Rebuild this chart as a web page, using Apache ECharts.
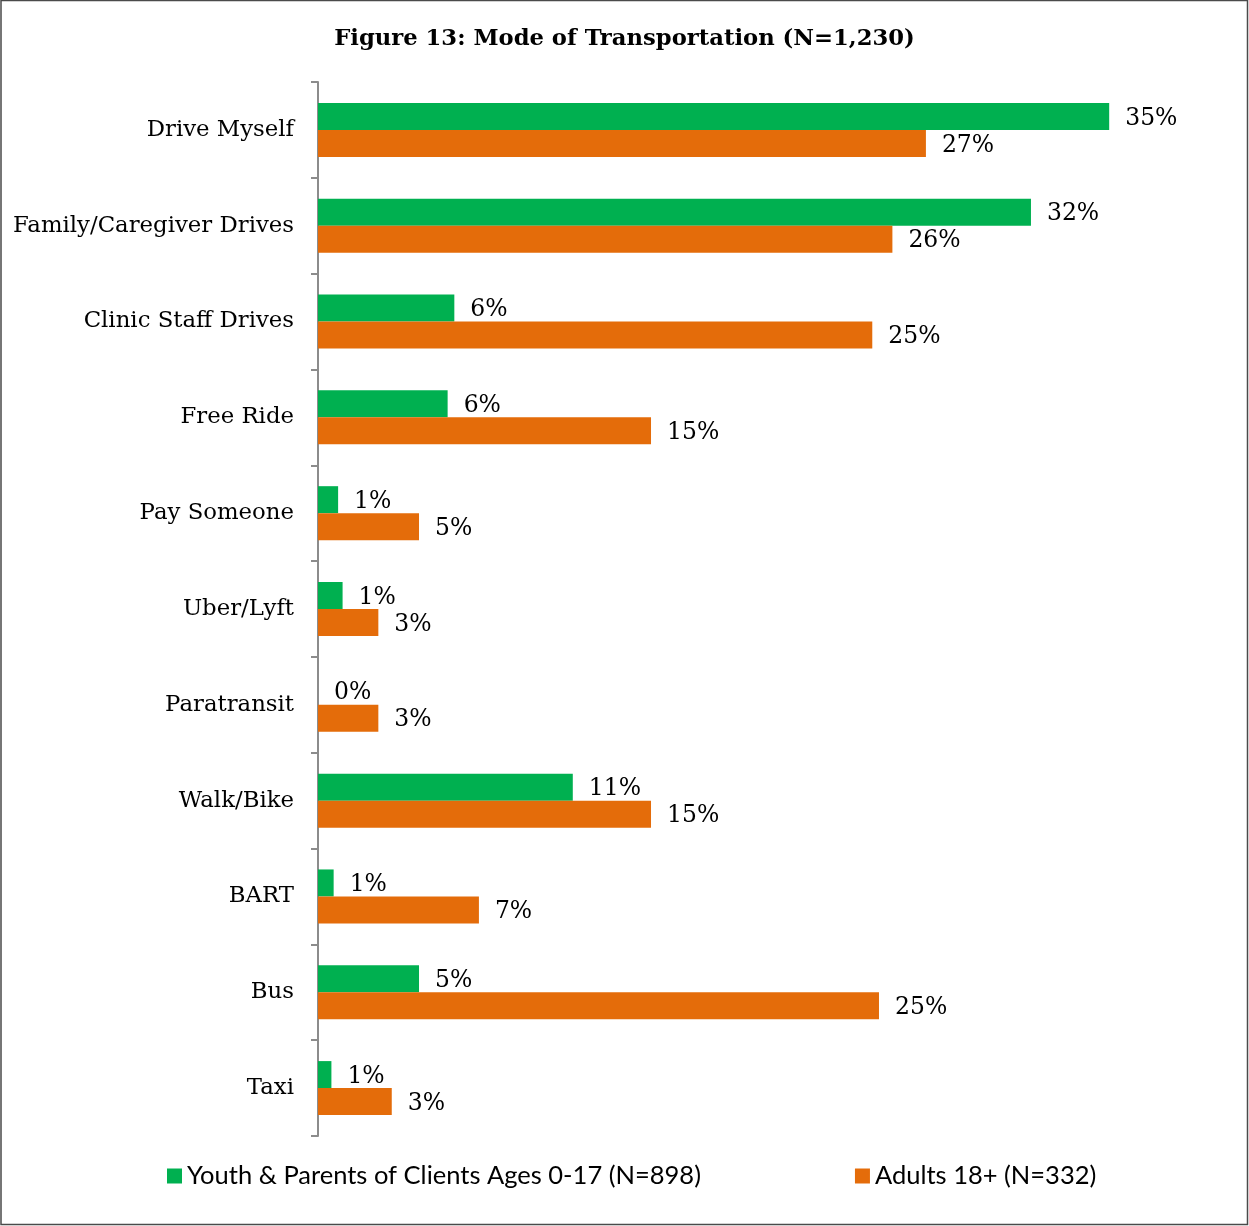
<!DOCTYPE html>
<html>
<head>
<meta charset="utf-8">
<script src="https://cdn.jsdelivr.net/npm/echarts@6/dist/echarts.min.js"></script>
<style>
  html, body { margin: 0; padding: 0; background: #fff; }
  #chart { width: 1249px; height: 1226px; }
</style>
</head>
<body>
<div id="chart"></div>
<script>
const categories = ['Drive Myself', 'Family/Caregiver Drives', 'Clinic Staff Drives', 'Free Ride', 'Pay Someone',
  'Uber/Lyft', 'Paratransit', 'Walk/Bike', 'BART', 'Bus', 'Taxi']
const youthValues = [35.4, 31.9, 6.1, 5.8, 0.9, 1.1, 0, 11.4, 0.7, 4.52, 0.6]
const adultValues = [27.2, 25.7, 24.8, 14.9, 4.52, 2.7, 2.7, 14.9, 7.2, 25.1, 3.3]
const seriesNames = ['Youth & Parents of Clients Ages 0-17 (N=898)', 'Adults 18+ (N=332)']

const chart = echarts.init(document.getElementById('chart'))

const serifFont = '"DejaVu Serif", serif'
const barLabel = {
  show: true,
  position: 'right',
  distance: 16,
  offset: [0, 2],
  fontFamily: serifFont,
  fontSize: 23.5,
  color: '#000',
  formatter: p => Math.round(p.value) + '%'
}

const option = {
  animation: false,
  title: {
    text: 'Figure 13: Mode of Transportation (N=1,230)',
    left: 'center',
    top: 23,
    textStyle: { fontFamily: serifFont, fontWeight: 'bold', fontSize: 22.7, color: '#000' }
  },
  legend: {
    bottom: 32,
    left: 162,
    itemWidth: 15,
    itemHeight: 15,
    itemGap: 154,
    icon: 'rect',
    textStyle: { fontFamily: 'Lato, sans-serif', fontSize: 25.5, color: '#000' },
    data: seriesNames
  },
  grid: {
    left: 318,
    top: 82,
    height: 1054,
    width: 894
  },
  xAxis: {
    type: 'value',
    min: 0,
    max: 40,
    show: false
  },
  yAxis: {
    type: 'category',
    inverse: true,
    data: categories,
    axisLine: { show: true, lineStyle: { color: '#8c8c8c', width: 2 } },
    axisTick: { show: true, length: 7, lineStyle: { color: '#8c8c8c', width: 2 } },
    axisLabel: { margin: 24, fontFamily: serifFont, fontSize: 22.8, color: '#000' }
  },
  series: [
    {
      name: seriesNames[0],
      type: 'bar',
      data: youthValues,
      barWidth: 27,
      barGap: '0%',
      itemStyle: { color: '#00B050' },
      label: barLabel
    },
    {
      name: seriesNames[1],
      type: 'bar',
      data: adultValues,
      barWidth: 27,
      barGap: '0%',
      itemStyle: { color: '#E46C0A' },
      label: barLabel
    }
  ],
  graphic: [{
    type: 'rect',
    shape: { x: 1, y: 0.5, width: 1246.5, height: 1224 },
    style: { fill: 'none', stroke: '#4a4a4a', lineWidth: 1.5 },
    silent: true
  }]
}

chart.setOption(option)
</script>
</body>
</html>
